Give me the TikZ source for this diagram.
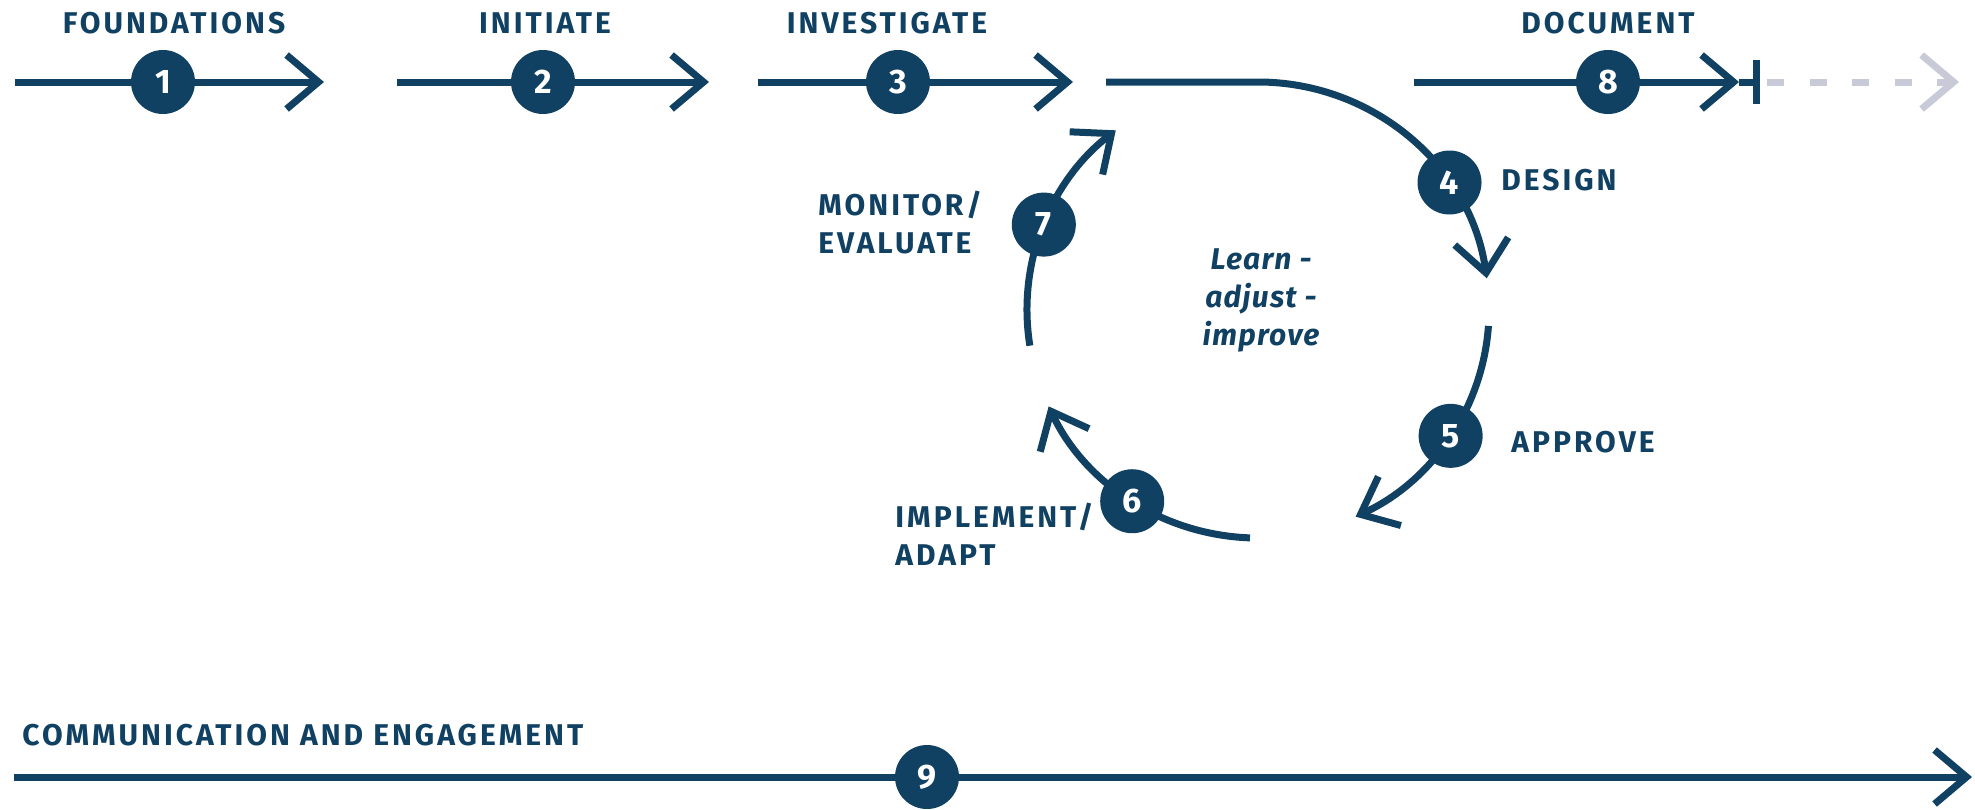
\documentclass[tikz,border=0pt]{standalone}
\usepackage{fontspec}
\setmainfont{Fira Sans}
\newfontfamily\labfont{Fira Sans}[LetterSpace=10]
\newfontfamily\italfont{Fira Sans}[LetterSpace=4]
\usetikzlibrary{arrows.meta}
\definecolor{navy}{RGB}{16,64,98}
\definecolor{lgray}{RGB}{200,202,216}
\begin{document}
\begin{tikzpicture}[x=0.5pt,y=-0.5pt,
  flow/.style={line width=3.5pt, draw=navy},
  tipped/.style={flow, -{Straight Barb[length=16pt,width=27pt]}},
  ghost/.style={line width=3.5pt, draw=lgray, dash pattern=on 8.5pt off 12.75pt, -{Straight Barb[length=16pt,width=27pt]}},
  numdot/.style={circle, fill=navy, minimum size=32pt, inner sep=0pt, text=white, font=\fontsize{17}{17}\selectfont\bfseries},
  lab/.style={text=navy, font=\labfont\fontsize{15}{19}\selectfont\bfseries, inner sep=0pt},
  ital/.style={lab, align=center, font=\italfont\fontsize{15}{19}\selectfont\bfseries\itshape}
]
\useasboundingbox (0,0) rectangle (1975,809);
% top row coordinates
\coordinate (s1) at (15,82);   \coordinate (e1) at (324,82);
\coordinate (s2) at (397,82);  \coordinate (e2) at (709,82);
\coordinate (s3) at (758,82);  \coordinate (e3) at (1073,82);
\coordinate (s8) at (1414,82); \coordinate (e8) at (1739,82);
\coordinate (bar8) at (1756,82);
\coordinate (bar8t) at (1756,60); \coordinate (bar8b) at (1756,104);
\coordinate (d8s) at (1767,82); \coordinate (d8e) at (1959,82);
\coordinate (s9) at (14,777);  \coordinate (e9) at (1972,777);
% loop
\coordinate (O) at (1258,310);
\coordinate (ls) at (1106,82);
\coordinate (ltop) at ([shift={(-90:231 and 228)}]O);
\coordinate (a5) at ([shift={(4:231 and 228)}]O);
\coordinate (a6) at ([shift={(92:231 and 228)}]O);
\coordinate (a7) at ([shift={(171:231 and 228)}]O);

\draw[tipped] (s1) -- (e1);
\draw[tipped] (s2) -- (e2);
\draw[tipped] (s3) -- (e3);
\draw[tipped] (s8) -- (e8);
\draw[flow] (e8) -- (bar8);
\draw[flow] (bar8t) -- (bar8b);
\draw[ghost] (d8s) -- (d8e);
\draw[tipped] (s9) -- (e9);

\draw[tipped] (ls) -- (ltop) arc[start angle=-90, end angle=-8, x radius=231, y radius=228];
\draw[tipped] (a5) arc[start angle=4, end angle=65, x radius=231, y radius=228];
\draw[tipped] (a6) arc[start angle=92, end angle=155, x radius=231, y radius=228];
\draw[tipped] (a7) arc[start angle=171, end angle=232, x radius=231, y radius=228];

% step dots
\node[numdot] (n1) at (163,82) {1};
\node[numdot] (n2) at (543,82) {2};
\node[numdot] (n3) at (898,82) {3};
\node[numdot] (n8) at (1608,82) {8};
\node[numdot] (n9) at (927,777) {9};
\node[numdot] (n4) at ([shift={(-34:231 and 228)}]O) {4};
\node[numdot] (n5) at ([shift={(33.5:231 and 228)}]O) {5};
\node[numdot] (n6) at ([shift={(123:231 and 228)}]O) {6};
\node[numdot] (n7) at ([shift={(202:231 and 228)}]O) {7};

% labels
\node[lab] (t1) at (174,23) {FOUNDATIONS};
\node[lab] (t2) at (545,23) {INITIATE};
\node[lab] (t3) at (887,23) {INVESTIGATE};
\node[lab] (t8) at (1608,23) {DOCUMENT};
\node[lab, anchor=west] (t4) at (1501,180) {DESIGN};
\node[lab, anchor=west] (t5) at (1511,442) {APPROVE};
\node[lab, anchor=west, align=left] (t6) at (895,534) {IMPLEMENT/\\ADAPT};
\node[lab, anchor=west, align=left] (t7) at (818,223) {MONITOR/\\EVALUATE};
\node[ital] (tc) at (1261,300) {Learn -\\adjust -\\improve};
\node[lab, anchor=west] (t9) at (22,735) {COMMUNICATION AND ENGAGEMENT};
\end{tikzpicture}
\end{document}
